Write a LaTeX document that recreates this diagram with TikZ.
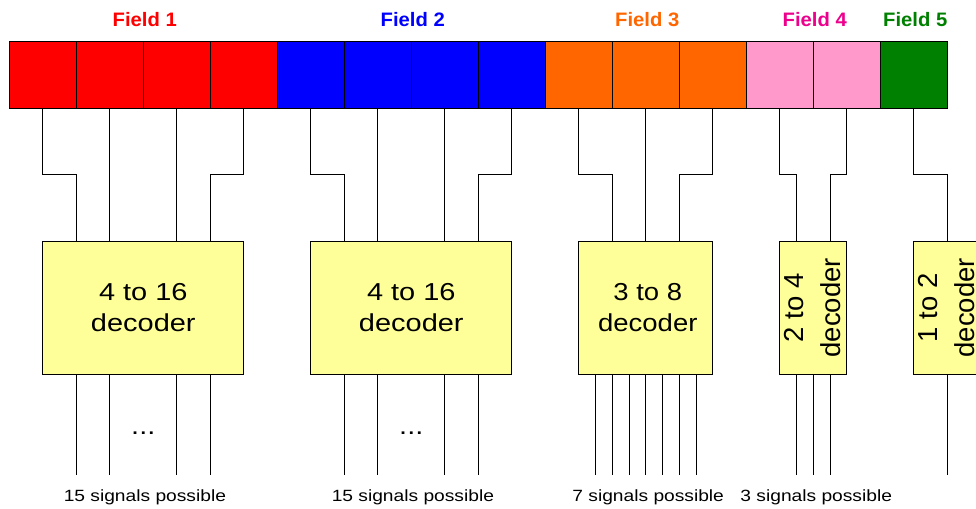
\documentclass[tikz,border=0pt]{standalone}
\usepackage{fontspec}
\setmainfont{Liberation Sans}
\newfontfamily\widefont[FakeStretch=1.18]{Liberation Sans}
\newfontfamily\midfont[FakeStretch=1.12]{Liberation Sans}
\newfontfamily\fieldfont[FakeStretch=1.04]{Liberation Sans}
\usetikzlibrary{calc}

\definecolor{fieldred}{HTML}{FF0000}
\definecolor{fieldblue}{HTML}{0000FF}
\definecolor{fieldorange}{HTML}{FF6600}
\definecolor{fieldpink}{HTML}{FF99CC}
\definecolor{fieldgreen}{HTML}{008000}
\definecolor{decoderfill}{HTML}{FFFF99}

\begin{document}
\begin{tikzpicture}[x=0.75pt,y=-0.75pt,
  cell/.style={draw=black, line width=0.75pt, inner sep=0pt, outer sep=0pt,
    minimum width=50.25pt, minimum height=49.9pt, anchor=north west},
  decoder/.style={draw=black, fill=decoderfill, line width=0.75pt, inner sep=0pt,
    outer sep=0pt, minimum height=100pt, anchor=north west},
  wire/.style={line width=0.75pt, draw=black},
  fieldlabel/.style={font=\fieldfont\bfseries\fontsize{14.6}{17}\selectfont,
    anchor=base, inner sep=0pt},
  dectext/.style={font=\widefont\fontsize{18.4}{23}\selectfont, align=center, inner sep=0pt},
  dectextmid/.style={font=\midfont\fontsize{18.4}{23}\selectfont, align=center, inner sep=0pt},
  dectextup/.style={font=\fontsize{20.6}{27.9}\selectfont, align=center, inner sep=0pt, rotate=90},
  dotstext/.style={font=\widefont\fontsize{18.4}{23}\selectfont, anchor=base, inner sep=0pt},
  sigtext/.style={font=\widefont\fontsize{12.2}{15}\selectfont, anchor=base, inner sep=0pt},
]
\useasboundingbox (0,0) rectangle (976,508);
\clip (0,0) rectangle (976,508);

% reference levels
\coordinate (jog) at (0,174.7);
\coordinate (dtop) at (0,241);
\coordinate (outend) at (0,475);
\coordinate (dotsline) at (0,434.5);
\coordinate (sigline) at (0,501);

% instruction register cells
\foreach \i/\c in {1/fieldred,2/fieldred,3/fieldred,4/fieldred,
                   5/fieldblue,6/fieldblue,7/fieldblue,8/fieldblue,
                   9/fieldorange,10/fieldorange,11/fieldorange,
                   12/fieldpink,13/fieldpink,14/fieldgreen}
  \node[cell, fill=\c] (c\i) at ({9.3+67*(\i-1)},41.5) {};

% field captions
\node[fieldlabel, text=fieldred]    (f1) at ($(c1.north)!0.5!(c4.north)+(1.5,-15.5)$) {Field 1};
\node[fieldlabel, text=fieldblue]   (f2) at ($(c5.north)!0.5!(c8.north)+(1.5,-15.5)$) {Field 2};
\node[fieldlabel, text=fieldorange] (f3) at ($(c9.north)!0.5!(c11.north)+(1.5,-15.5)$) {Field 3};
\node[fieldlabel, text=magenta]     (f4) at ($(c12.north)!0.5!(c13.north)+(1.5,-15.5)$) {Field 4};
\node[fieldlabel, text=fieldgreen]  (f5) at ($(c14.north)+(1.5,-15.5)$) {Field 5};

% decoders
\node[decoder, minimum width=150.75pt] (d1) at (c1.south |- dtop) {};
\node[decoder, minimum width=150.75pt] (d2) at (c5.south |- dtop) {};
\node[decoder, minimum width=100.5pt]  (d3) at (c9.south |- dtop) {};
\node[decoder, minimum width=50.25pt]  (d4) at (c12.south |- dtop) {};
\node[decoder, minimum width=50.25pt]  (d5) at (c14.south |- dtop) {};

\node[dectext]    (t1) at (d1.center) {4 to 16\\decoder};
\node[dectext]    (t2) at (d2.center) {4 to 16\\decoder};
\node[dectextmid] (t3) at ([xshift=1.5pt]d3.center) {3 to 8\\decoder};
\node[dectextup]  (t4) at ([xshift=-0.5pt]d4.center) {2 to 4\\decoder};
\node[dectextup]  (t5) at ([xshift=-0.5pt]d5.center) {1 to 2\\decoder};

% register bits into the decoders
\draw[wire] (c1.south) -- (c1.south |- jog) -| (c1.south east |- d1.north);
\draw[wire] (c2.south) -- (c2.south |- d1.north);
\draw[wire] (c3.south) -- (c3.south |- d1.north);
\draw[wire] (c4.south) -- (c4.south |- jog) -| (c4.south west |- d1.north);

\draw[wire] (c5.south) -- (c5.south |- jog) -| (c5.south east |- d2.north);
\draw[wire] (c6.south) -- (c6.south |- d2.north);
\draw[wire] (c7.south) -- (c7.south |- d2.north);
\draw[wire] (c8.south) -- (c8.south |- jog) -| (c8.south west |- d2.north);

\draw[wire] (c9.south) -- (c9.south |- jog) -| (c9.south east |- d3.north);
\draw[wire] (c10.south) -- (c10.south |- d3.north);
\draw[wire] (c11.south) -- (c11.south |- jog) -| (c11.south west |- d3.north);

\coordinate (d4in1) at ($(d4.north west)!0.25!(d4.north east)$);
\coordinate (d4in2) at ($(d4.north west)!0.75!(d4.north east)$);
\draw[wire] (c12.south) -- (c12.south |- jog) -| (d4in1);
\draw[wire] (c13.south) -- (c13.south |- jog) -| (d4in2);

\draw[wire] (c14.south) -- (c14.south |- jog) -| (c14.south east |- d5.north);

% decoder outputs
\foreach \k [evaluate=\k as \f using \k/6] in {1,2,4,5} {
  \coordinate (o1\k) at ($(d1.south west)!\f!(d1.south east)$);
  \draw[wire] (o1\k) -- (o1\k |- outend);
  \coordinate (o2\k) at ($(d2.south west)!\f!(d2.south east)$);
  \draw[wire] (o2\k) -- (o2\k |- outend);
}
\foreach \k [evaluate=\k as \f using \k/8] in {1,...,7} {
  \coordinate (o3\k) at ($(d3.south west)!\f!(d3.south east)$);
  \draw[wire] (o3\k) -- (o3\k |- outend);
}
\foreach \k [evaluate=\k as \f using \k/4] in {1,2,3} {
  \coordinate (o4\k) at ($(d4.south west)!\f!(d4.south east)$);
  \draw[wire] (o4\k) -- (o4\k |- outend);
}
\coordinate (o51) at (d5.south);
\draw[wire] (o51) -- (o51 |- outend);

% elided outputs
\node[dotstext] (e1) at (d1.center |- dotsline) {...};
\node[dotstext] (e2) at (d2.center |- dotsline) {...};

% output counts
\node[sigtext] (s1) at ([xshift=1.2pt]d1.center |- sigline) {15 signals possible};
\node[sigtext] (s2) at ([xshift=1.2pt]d2.center |- sigline) {15 signals possible};
\node[sigtext] (s3) at ([xshift=1.8pt]d3.center |- sigline) {7 signals possible};
\node[sigtext] (s4) at ([xshift=2.2pt]d4.center |- sigline) {3 signals possible};
\end{tikzpicture}
\end{document}
